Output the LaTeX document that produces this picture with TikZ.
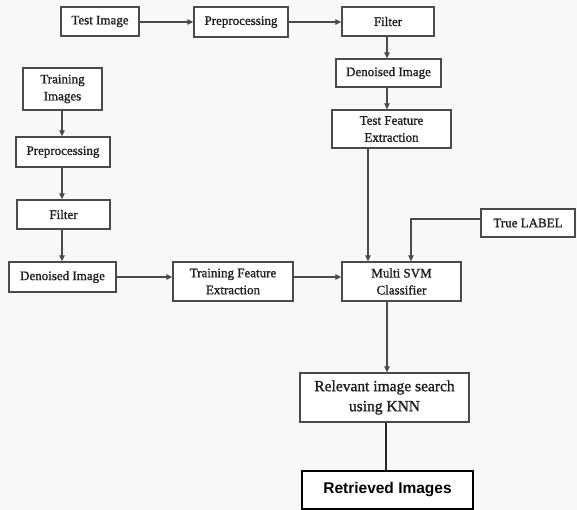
\documentclass[tikz,border=0pt]{standalone}
\usepackage{fontspec}
\setmainfont{Liberation Serif}
\newfontfamily\heavyserif[FakeBold=1.2]{Liberation Serif}
\newfontfamily\boxsans{Liberation Sans}
\usetikzlibrary{arrows.meta,positioning}

\definecolor{pagebg}{HTML}{F8F8F8}
\definecolor{edge}{HTML}{4A4A4A}
\definecolor{ink}{HTML}{1E1E1E}

\tikzset{
  stage/.style={draw=edge, line width=1.4pt, fill=white, text=ink,
    inner sep=0pt, align=center,
    font=\heavyserif\fontsize{13}{17}\selectfont},
  finalbox/.style={draw=black, line width=2.2pt, fill=white, text=black,
    inner sep=0pt, align=center,
    font=\boxsans\bfseries\fontsize{15.5}{19}\selectfont},
  flow/.style={draw=edge, line width=1.1pt,
    -{Triangle[length=6pt,width=5.5pt]}},
  plainflow/.style={draw=black!85, line width=1.8pt}
}

\begin{document}
\begin{tikzpicture}[x=1pt,y=-1pt]
  % canvas
  \fill[pagebg] (0,0) rectangle (577,510);
  \useasboundingbox (0,0) rectangle (577,510);

  % test branch
  \node[stage, minimum width=78pt, minimum height=29pt] (ti) at (100,21.5) {Test Image};
  \node[stage, minimum width=94pt, minimum height=30pt] (pp1) at (241,22) {Preprocessing};
  \node[stage, minimum width=92pt, minimum height=29pt] (f1) at (388,21.5) {Filter};
  \node[stage, minimum width=105pt, minimum height=28pt] (d1) at (388.5,73) {Denoised Image};
  \node[stage, minimum width=119pt, minimum height=38pt] (tf) at (391.5,129) {Test Feature\\Extraction};

  % training branch
  \node[stage, minimum width=79pt, minimum height=42pt] (tr) at (62.5,89) {Training\\Images};
  \node[stage, minimum width=94pt, minimum height=30pt] (pp2) at (63,152) {Preprocessing};
  \node[stage, minimum width=93pt, minimum height=29pt] (f2) at (63.5,214.5) {Filter};
  \node[stage, minimum width=107pt, minimum height=30pt] (d2) at (62.5,277) {Denoised Image};
  \node[stage, minimum width=120pt, minimum height=39pt] (trf) at (233,281.5) {Training Feature\\Extraction};

  % classification and retrieval
  \node[stage, minimum width=119pt, minimum height=39pt] (svm) at (401.5,281.5) {Multi SVM\\Classifier};
  \node[stage, minimum width=94pt, minimum height=28pt] (tl) at (528,223) {True LABEL};
  \node[stage, minimum width=169pt, minimum height=49pt,
        font=\heavyserif\fontsize{15.5}{20}\selectfont] (rel) at (384.5,397.5) {Relevant image search\\using KNN};
  \node[finalbox, minimum width=171pt, minimum height=38pt] (ret) at (387.5,490) {Retrieved Images};

  % guide positions for off-centre connectors
  \coordinate (ytop) at (0,22);
  \coordinate (ymid) at (0,277);
  \coordinate (xtr) at (62,0);
  \coordinate (xf) at (387,0);
  \coordinate (xtf) at (368,0);
  \coordinate (xtl) at (411,0);
  \coordinate (xret) at (386,0);
  \coordinate (ytl) at (0,219);
  \coordinate (bend) at (411,219);

  % test branch connectors
  \draw[flow] (ti.east |- ytop) -- (pp1.west |- ytop);
  \draw[flow] (pp1.east |- ytop) -- (f1.west |- ytop);
  \draw[flow] (f1.south -| xf) -- (d1.north -| xf);
  \draw[flow] (d1.south -| xf) -- (tf.north -| xf);
  \draw[flow] (tf.south -| xtf) -- (svm.north -| xtf);

  % training branch connectors
  \draw[flow] (tr.south -| xtr) -- (pp2.north -| xtr);
  \draw[flow] (pp2.south -| xtr) -- (f2.north -| xtr);
  \draw[flow] (f2.south -| xtr) -- (d2.north -| xtr);
  \draw[flow] (d2.east |- ymid) -- (trf.west |- ymid);
  \draw[flow] (trf.east |- ymid) -- (svm.west |- ymid);

  % label input and output chain
  \draw[flow] (tl.west |- ytl) -- (bend) -- (svm.north -| xtl);
  \draw[flow] (svm.south -| xf) -- (rel.north -| xf);
  \draw[plainflow] (rel.south -| xret) -- (ret.north -| xret);
\end{tikzpicture}
\end{document}
